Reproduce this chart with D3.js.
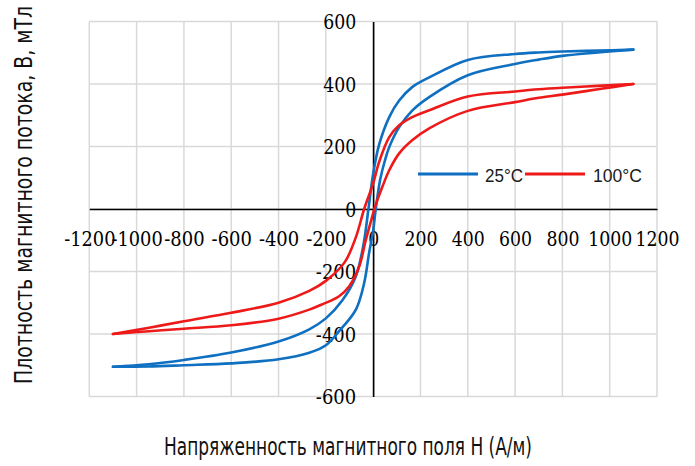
<!DOCTYPE html>
<html>
<head>
<meta charset="utf-8">
<script src="https://cdn.jsdelivr.net/npm/d3@7"></script>
<style>
  html, body { margin: 0; padding: 0; background: #fff; }
  svg { display: block; }
</style>
</head>
<body>
<script>
// ---- data ----
const hTicks = [-1200, -1000, -800, -600, -400, -200, 0, 200, 400, 600, 800, 1000, 1200];
const bTicks = [-600, -400, -200, 0, 200, 400, 600];
const seriesNames = ["25°C", "100°C"];
const xTitle = "Напряженность магнитного поля Н (А/м)";
const yTitle = "Плотность магнитного потока, В,  мТл";

// 25 °C: descending (upper) branch and ascending (lower) branch, [H, B]
const blueUpper = [[-1100,-505],[-950,-497],[-800,-483],[-600,-459],[-400,-424],[-270,-385],[-200,-350],[-130,-292],[-73,-215],[-40,-110],[-20,0],[0,112],[25,205],[68,294],[110,347],[165,390],[237,421],[400,477],[600,496],[700,501],[800,504],[950,507],[1100,510]];
const blueLower = [[-1100,-505],[-950,-504],[-800,-500],[-600,-494],[-400,-481],[-270,-460],[-200,-436],[-144,-391],[-73,-322],[-38,-237],[-17,-140],[0,-70],[11,0],[30,95],[50,156],[68,198],[110,262],[165,315],[237,358],[400,428],[600,464],[700,478],[800,490],[950,501],[1100,510]];
// 100 °C
const redUpper = [[-1100,-400],[-947,-380],[-800,-359],[-600,-332],[-400,-300],[-270,-262],[-200,-230],[-120,-170],[-73,-90],[-38,0],[0,82],[25,150],[68,230],[110,268],[165,294],[237,316],[400,360],[600,376],[700,383],[800,388],[950,394],[1100,400]];
const redLower = [[-1100,-400],[-947,-391],[-800,-383],[-600,-372],[-400,-351],[-270,-322],[-215,-305],[-144,-279],[-101,-247],[-59,-184],[-31,-99],[0,-14],[5,0],[39,71],[68,124],[110,178],[165,220],[237,258],[400,314],[600,342],[700,356],[800,366],[950,383],[1100,400]];

const W = 695, H = 466;
const svg = d3.select("body").append("svg").attr("width", W).attr("height", H);
svg.append("rect").attr("width", W).attr("height", H).attr("fill", "#fff");

const x = d3.scaleLinear().domain([-1200, 1200]).range([89.3, 657]);
const y = d3.scaleLinear().domain([-600, 600]).range([396.5, 21.5]);

// grid
const grid = svg.append("g").attr("stroke", "#d9d9d9").attr("stroke-width", 1.5);
grid.selectAll(".v").data(hTicks).join("line")
  .attr("x1", d => x(d)).attr("x2", d => x(d))
  .attr("y1", y(-600)).attr("y2", y(600));
grid.selectAll(".h").data(bTicks).join("line")
  .attr("x1", x(-1200)).attr("x2", x(1200))
  .attr("y1", d => y(d)).attr("y2", d => y(d));

// Times-like footprint for tick labels (digit 0.5em, minus 0.333em)
const tickPx = 22;
const timesWidth = s => String(s).split("").reduce((w, ch) => w + (ch === "-" ? 0.333 : 0.5), 0) * tickPx;

// axes
const xAxis = svg.append("g").attr("transform", `translate(0,${y(0)})`)
  .call(d3.axisBottom(x).tickValues(hTicks).tickSize(0).tickSizeOuter(0).tickFormat(d => d));
xAxis.attr("font-family", "DejaVu Serif").attr("font-size", 20);
xAxis.select(".domain").attr("stroke", "#000").attr("stroke-width", 1.6);
xAxis.selectAll("text").attr("y", 37).attr("dy", 0).attr("fill", "#000")
  .attr("textLength", d => timesWidth(d)).attr("lengthAdjust", "spacingAndGlyphs");

const yAxis = svg.append("g").attr("transform", `translate(${x(0)},0)`)
  .call(d3.axisLeft(y).tickValues(bTicks).tickSize(0).tickSizeOuter(0).tickFormat(d => d));
yAxis.attr("font-family", "DejaVu Serif").attr("font-size", 20);
yAxis.select(".domain").attr("stroke", "#000").attr("stroke-width", 1.6);
yAxis.selectAll("text").attr("x", -17).attr("dy", "0.36em").attr("fill", "#000")
  .attr("textLength", d => timesWidth(d)).attr("lengthAdjust", "spacingAndGlyphs");

// curves
const line = d3.line().x(d => x(d[0])).y(d => y(d[1])).curve(d3.curveCatmullRom.alpha(0.5));
const colors = ["#0f6fc0", "#ee1a1a"];
const branches = [
  {data: blueUpper, c: colors[0]}, {data: blueLower, c: colors[0]},
  {data: redUpper, c: colors[1]}, {data: redLower, c: colors[1]}
];
svg.append("g").selectAll("path").data(branches).join("path")
  .attr("d", d => line(d.data))
  .attr("fill", "none").attr("stroke", d => d.c).attr("stroke-width", 2.6)
  .attr("stroke-linecap", "round");

// legend
const legend = svg.append("g");
const legendItems = [
  {name: seriesNames[0], c: colors[0], x1: 418, x2: 478, tx: 485, w: 38},
  {name: seriesNames[1], c: colors[1], x1: 525, x2: 585, tx: 593, w: 49}
];
legendItems.forEach(it => {
  legend.append("line").attr("x1", it.x1).attr("x2", it.x2).attr("y1", 174).attr("y2", 174)
    .attr("stroke", it.c).attr("stroke-width", 3);
  legend.append("text").attr("x", it.tx).attr("y", 181.5)
    .attr("font-family", "Liberation Sans, Open Sans, sans-serif").attr("font-size", 19)
    .attr("textLength", it.w).attr("lengthAdjust", "spacingAndGlyphs")
    .attr("fill", "#1a1a1a").text(it.name);
});

// axis titles
svg.append("text").attr("x", 164).attr("y", 455)
  .attr("font-family", "DejaVu Sans Condensed").attr("font-size", 25)
  .attr("textLength", 368).attr("lengthAdjust", "spacingAndGlyphs")
  .attr("fill", "#111").text(xTitle);
svg.append("text").attr("transform", "translate(32,384) rotate(-90)")
  .attr("font-family", "DejaVu Sans Condensed").attr("font-size", 25)
  .attr("textLength", 378).attr("lengthAdjust", "spacingAndGlyphs")
  .attr("fill", "#111").text(yTitle);
</script>
</body>
</html>
